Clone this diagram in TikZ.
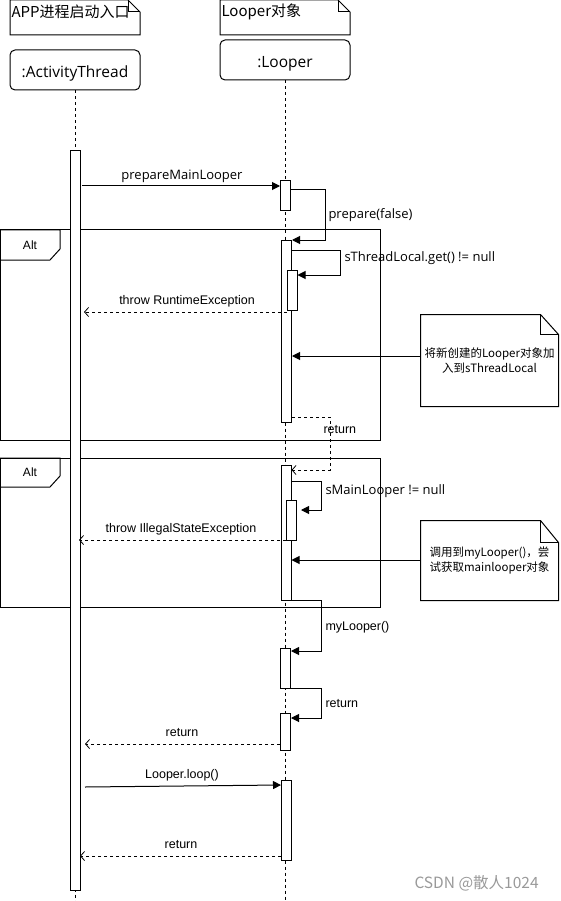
\documentclass[tikz,border=0pt]{standalone}
\usepackage{fontspec}
\setmainfont{Liberation Sans}
\newfontfamily\cjk{Noto Sans CJK SC}
\newfontfamily\seg{Open Sans}
\usetikzlibrary{arrows.meta}
\begin{document}
\begin{tikzpicture}[x=1pt,y=-1pt,line width=1pt,
  lifeline/.style={dash pattern=on 3pt off 3pt},
  actbox/.style={draw,fill=white,minimum width=10pt,inner sep=0pt,anchor=north},
  msg/.style={-{Triangle[length=8pt,width=8pt]}},
  retmsg/.style={dash pattern=on 3pt off 3pt,-{Straight Barb[length=4pt,width=9pt]},line width=0.8pt},
  lblA/.style={font=\fontsize{12.5}{14}\selectfont,inner sep=0pt},
  lblS/.style={font=\seg\fontsize{13}{15}\selectfont,inner sep=0pt},
  headbox/.style={draw,rounded corners=5pt,minimum width=130pt,minimum height=40pt,inner sep=0pt},
  headtext/.style={inner sep=0pt,font=\seg\fontsize{15.5}{17}\selectfont},
  notetext/.style={font=\cjk\fontsize{11.5}{15}\selectfont,align=center,inner sep=0pt},
  frame/.style={draw,line width=1pt}
]
\useasboundingbox (0,0) rectangle (561,901);

% header notes
\draw (10,0) -- (128,0) -- (140,12) -- (140,35) -- (10,35) -- cycle;
\draw (128,0) -- (128,12) -- (140,12);
\node[anchor=west,inner sep=0pt,font=\cjk\fontsize{15}{17}\selectfont] (hA) at (11,12) {APP进程启动入口};
\draw (220,0) -- (338,0) -- (350,12) -- (350,35) -- (220,35) -- cycle;
\draw (338,0) -- (338,12) -- (350,12);
\node[anchor=west,inner sep=0pt,font=\cjk\fontsize{15}{17}\selectfont] (hB) at (221,12) {Looper对象};

% participants
\node[headbox] (at) at (75,70) {};
\node[headtext] (atT) at ([yshift=-3.5pt]at.center) {:ActivityThread};
\node[headbox] (lp) at (285,60) {};
\node[headtext] (lpT) at ([yshift=-3.5pt]lp.center) {:Looper};
\coordinate (atEnd) at (75,901);
\coordinate (lpEnd) at (285,901);
\draw[lifeline] (at.south) -- (atEnd);
\draw[lifeline] (lp.south) -- (lpEnd);

% alt frames
\draw[frame] (0,230) rectangle (380,440);
\draw (0,230) -- (60,230) -- (60,249) -- (50,260) -- (0,260);
\node[lblA,font=\fontsize{12}{14}\selectfont] (alt1) at (30,245) {Alt};
\draw[frame] (0,458) rectangle (380,607);
\draw (0,458) -- (60,458) -- (60,476) -- (50,487) -- (0,487);
\node[lblA,font=\fontsize{12}{14}\selectfont] (alt2) at (30,472) {Alt};

% activations
\node[actbox,minimum height=740pt] (a0) at (75.5,150) {};
\node[actbox,minimum height=30pt] (a1) at (285.5,180) {};
\node[actbox,minimum height=182pt] (a2) at (286.5,240) {};
\node[actbox,minimum height=40pt] (a3) at (292,270) {};
\node[actbox,minimum height=135pt] (a4) at (286,465) {};
\node[actbox,minimum height=40pt] (a5) at (291.5,500) {};
\node[actbox,minimum height=40pt] (a6) at (285.5,648) {};
\node[actbox,minimum height=37pt] (a7) at (285.5,713) {};
\node[actbox,minimum height=80pt] (a8) at (286.5,780) {};

% notes
\node[notetext,minimum width=137pt,minimum height=91pt] (n1) at (489.5,360.5) {{\cjk 将新创建的Looper对象加}\\{\cjk 入到sThreadLocal}};
\draw (n1.south west) -- (n1.north west) -- ([xshift=-18pt]n1.north east) -- ([yshift=-20pt]n1.north east) -- (n1.south east) -- cycle;
\draw ([xshift=-18pt]n1.north east) -- ([xshift=-18pt,yshift=-20pt]n1.north east) -- ([yshift=-20pt]n1.north east);
\node[notetext,minimum width=137pt,minimum height=79pt] (n2) at (489.5,560.5) {{\cjk 调用到myLooper()，尝}\\{\cjk 试获取mainlooper对象}};
\draw (n2.south west) -- (n2.north west) -- ([xshift=-18pt]n2.north east) -- ([yshift=-22pt]n2.north east) -- (n2.south east) -- cycle;
\draw ([xshift=-18pt]n2.north east) -- ([xshift=-18pt,yshift=-22pt]n2.north east) -- ([yshift=-22pt]n2.north east);

% messages
\draw[msg] (82,186) -- (a1.west |- 0,186);
\node[lblS] (l1) at (182,176) {prepareMainLooper};

\draw[msg] (a1.east |- 0,190) -- (325,190) -- (325,240) -- (a2.north east);
\node[lblS,anchor=west] (l2) at (328,215) {prepare(false)};

\draw[msg] (a2.east |- 0,250) -- (340,250) -- (340,275) -- (a3.east |- 0,275);
\node[lblS,anchor=west] (l3) at (344,258) {sThreadLocal.get() != null};

\draw[retmsg] (a3.west |- 0,312) -- (84,312);
\node[lblA] (l4) at (187,301) {throw RuntimeException};

\draw[msg] (n1.west |- 0,356) -- (a2.east |- 0,356);

\draw[retmsg] (a2.east |- 0,417) -- (330,417) -- (330,470) -- (a4.east |- 0,470);
\node[lblA,anchor=west] (l5) at (323,430) {return};

\draw[msg] (a4.east |- 0,481) -- (321,481) -- (321,510) -- (301,510);
\node[lblS,anchor=west] (l6) at (325,491) {sMainLooper != null};

\draw[retmsg] (a5.west |- 0,540) -- (79,540);
\node[lblA] (l7) at (181,529) {throw IllegalStateException};

\draw[msg] (n2.west |- 0,560) -- (a4.east |- 0,560);

\draw[msg] (a4.east |- 0,600) -- (321,600) -- (321,651) -- (a6.east |- 0,651);
\node[lblA,anchor=west] (l8) at (325,627) {myLooper()};

\draw[msg] (a6.east |- 0,688) -- (321,688) -- (321,718) -- (a7.east |- 0,718);
\node[lblA,anchor=west] (l9) at (325,704) {return};

\draw[retmsg] (a7.west |- 0,744) -- (85,744);
\node[lblA] (l10) at (182,733) {return};

\draw[msg] (85,787) -- (a8.west |- 0,785);
\node[lblA] (l11) at (182,775) {Looper.loop()};

\draw[retmsg] (a8.west |- 0,856) -- (80,856);
\node[lblA] (l12) at (181,845) {return};

% watermark
\node[anchor=west,inner sep=0pt,text=black!40,font=\cjk\fontsize{15.5}{17}\selectfont] (wm) at (414,883) {CSDN @散人1024};
\end{tikzpicture}
\end{document}
